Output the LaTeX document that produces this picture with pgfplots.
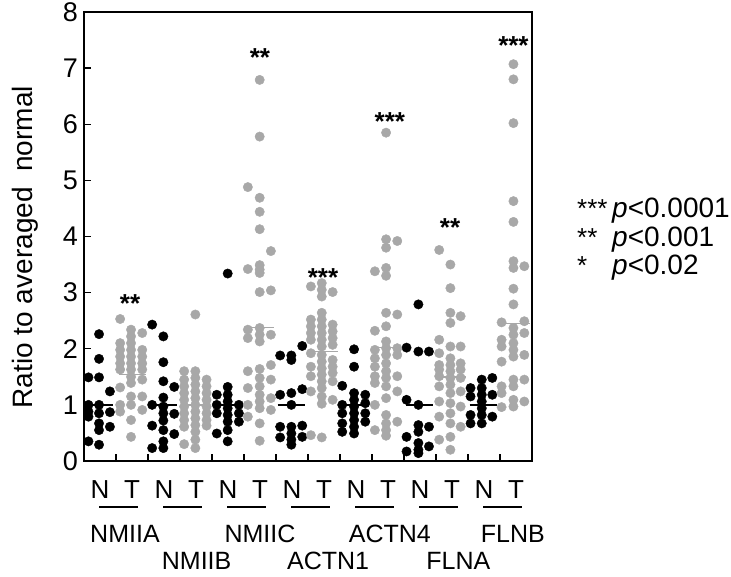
\documentclass[border=0pt]{standalone}
\usepackage{fontspec}
\setmainfont{Liberation Sans}
\usepackage{pgfplots}
\pgfplotsset{compat=1.18}
\definecolor{dotgray}{RGB}{168,168,168}
\newcommand{\bigfont}{\fontsize{26}{30}\selectfont}
\newcommand{\legfont}{\fontsize{28}{32}\selectfont}
\begin{document}
\begin{tikzpicture}
\useasboundingbox (-84pt,-116pt) rectangle (647pt,461pt);
\begin{axis}[
  at={(0,0)}, anchor=south west,
  scale only axis, width=448pt, height=449pt,
  xmin=0, xmax=14, ymin=0, ymax=8,
  clip=false,
  axis line style={line width=1.3pt},
  tick align=inside,
  xtick={1,2,...,13}, xticklabels={}, xtick pos=bottom,
  major tick length=7pt,
  tick style={line width=1.3pt, black},
  ytick={0,1,...,8}, yticklabels={0,1,2,3,4,5,6,7,8}, ytick pos=left,
  yticklabel style={anchor=east, inner sep=0pt, xshift=-6pt, font=\fontsize{27}{31}\selectfont},
]
% Normal (black)
\addplot[only marks, mark=*, mark size=4.7pt, black] table {
x y
0.14 1.49
0.14 1.00
0.14 0.88
0.14 0.79
0.14 0.35
0.47 2.26
0.47 1.82
0.47 1.49
0.47 1.00
0.47 0.85
0.47 0.67
0.47 0.55
0.47 0.29
0.81 1.24
0.81 0.87
0.81 0.61
2.13 2.43
2.13 1.00
2.13 0.63
2.13 0.23
2.48 2.22
2.48 1.76
2.48 1.42
2.48 1.13
2.48 0.97
2.48 0.85
2.48 0.72
2.48 0.55
2.48 0.35
2.48 0.23
2.82 1.32
2.82 0.84
2.82 0.48
4.15 1.18
4.15 1.00
4.15 0.85
4.15 0.49
4.49 3.34
4.49 1.32
4.49 1.18
4.49 1.06
4.49 0.94
4.49 0.82
4.49 0.70
4.49 0.55
4.49 0.35
4.84 1.00
4.84 0.85
4.84 0.70
6.13 1.88
6.13 1.18
6.13 0.61
6.13 0.42
6.48 1.88
6.48 1.80
6.48 1.21
6.48 1.00
6.48 0.61
6.48 0.49
6.48 0.38
6.48 0.29
6.82 2.05
6.82 1.28
6.82 0.63
6.82 0.43
8.07 1.34
8.07 1.00
8.07 0.85
8.07 0.67
8.07 0.52
8.44 1.99
8.44 1.68
8.44 1.21
8.44 1.09
8.44 0.97
8.44 0.85
8.44 0.73
8.44 0.61
8.44 0.49
8.79 1.18
8.79 1.03
8.79 0.85
8.79 0.70
10.08 2.02
10.08 1.09
10.08 0.43
10.08 0.17
10.45 2.79
10.45 1.95
10.45 1.00
10.45 0.64
10.45 0.52
10.45 0.32
10.45 0.20
10.45 0.14
10.78 1.95
10.78 0.61
10.78 0.26
12.08 1.30
12.08 1.15
12.08 0.82
12.08 0.67
12.43 1.45
12.43 1.30
12.43 1.18
12.43 1.06
12.43 0.94
12.43 0.82
12.43 0.67
12.76 1.48
12.76 1.18
12.76 0.79
};
% Tumour (gray)
\addplot[only marks, mark=*, mark size=4.7pt, dotgray] table {
x y
1.13 2.53
1.13 2.10
1.13 1.98
1.13 1.86
1.13 1.74
1.13 1.63
1.13 1.31
1.13 1.00
1.13 0.88
1.47 2.34
1.47 2.22
1.47 2.10
1.47 1.98
1.47 1.86
1.47 1.74
1.47 1.63
1.47 1.50
1.47 1.39
1.47 1.15
1.47 1.00
1.47 0.73
1.47 0.43
1.82 2.28
1.82 1.98
1.82 1.86
1.82 1.74
1.82 1.63
1.82 1.45
1.82 1.15
1.82 0.91
3.13 1.60
3.13 1.45
3.13 1.33
3.13 1.21
3.13 1.09
3.13 0.97
3.13 0.85
3.13 0.73
3.13 0.61
3.13 0.30
3.48 2.61
3.48 1.60
3.48 1.48
3.48 1.36
3.48 1.24
3.48 1.12
3.48 1.00
3.48 0.88
3.48 0.76
3.48 0.64
3.48 0.52
3.48 0.38
3.48 0.23
3.83 1.45
3.83 1.33
3.83 1.21
3.83 1.09
3.83 0.97
3.83 0.85
3.83 0.73
3.83 0.63
5.12 4.88
5.12 3.42
5.12 2.34
5.12 2.19
5.12 1.60
5.12 1.30
5.12 1.00
5.12 0.79
5.49 6.79
5.49 5.78
5.49 4.69
5.49 4.44
5.49 4.13
5.49 3.49
5.49 3.41
5.49 3.35
5.49 3.01
5.49 2.37
5.49 2.25
5.49 2.13
5.49 1.64
5.49 1.48
5.49 1.33
5.49 1.18
5.49 1.06
5.49 0.94
5.49 0.67
5.49 0.36
5.84 3.74
5.84 3.04
5.84 2.25
5.84 1.71
5.84 1.45
5.84 1.12
5.84 0.91
7.09 3.11
7.09 2.52
7.09 2.40
7.09 2.28
7.09 2.16
7.09 1.92
7.09 1.68
7.09 1.51
7.09 1.24
7.09 0.46
7.43 3.17
7.43 3.05
7.43 2.93
7.43 2.64
7.43 2.52
7.43 2.40
7.43 2.28
7.43 2.16
7.43 2.04
7.43 1.89
7.43 1.77
7.43 1.65
7.43 1.54
7.43 1.42
7.43 1.30
7.43 1.15
7.43 1.02
7.43 0.42
7.77 3.01
7.77 2.43
7.77 2.31
7.77 2.19
7.77 2.07
7.77 1.80
7.77 1.68
7.77 1.57
7.77 1.42
7.77 1.09
9.09 3.38
9.09 2.32
9.09 1.98
9.09 1.83
9.09 1.68
9.09 1.51
9.09 1.39
9.09 1.00
9.09 0.55
9.44 5.85
9.44 3.95
9.44 3.80
9.44 3.44
9.44 3.30
9.44 2.64
9.44 2.40
9.44 2.13
9.44 2.01
9.44 1.89
9.44 1.74
9.44 1.60
9.44 1.48
9.44 1.33
9.44 1.12
9.44 0.82
9.44 0.67
9.44 0.55
9.44 0.45
9.79 3.92
9.79 2.61
9.79 2.01
9.79 1.89
9.79 1.51
9.79 1.24
9.79 0.70
11.10 3.76
11.10 2.16
11.10 1.92
11.10 1.71
11.10 1.63
11.10 1.51
11.10 1.33
11.10 1.06
11.10 0.79
11.10 0.38
11.45 3.50
11.45 3.08
11.45 2.64
11.45 2.46
11.45 2.04
11.45 1.83
11.45 1.71
11.45 1.60
11.45 1.48
11.45 1.36
11.45 1.21
11.45 1.03
11.45 0.85
11.45 0.67
11.45 0.43
11.45 0.20
11.77 2.58
11.77 2.04
11.77 1.74
11.77 1.63
11.77 1.48
11.77 1.24
11.77 0.97
11.77 0.61
13.05 2.47
13.05 2.16
13.05 2.04
13.05 1.77
13.05 1.33
13.05 1.21
13.05 0.96
13.42 7.07
13.42 6.80
13.42 6.02
13.42 4.63
13.42 4.26
13.42 3.56
13.42 3.44
13.42 3.07
13.42 2.79
13.42 2.37
13.42 2.25
13.42 2.10
13.42 1.98
13.42 1.86
13.42 1.45
13.42 1.33
13.42 1.09
13.42 0.97
13.76 3.47
13.76 2.49
13.76 2.28
13.76 1.89
13.76 1.45
13.76 1.06
};
% medians
\addplot[black, line width=1.6pt] coordinates {(0.05,1) (0.92,1)};
\addplot[black, line width=1.6pt] coordinates {(2.05,1) (2.92,1)};
\addplot[black, line width=1.6pt] coordinates {(4.05,1) (4.92,1)};
\addplot[black, line width=1.6pt] coordinates {(6.05,1) (6.92,1)};
\addplot[black, line width=1.6pt] coordinates {(8.05,1) (8.92,1)};
\addplot[black, line width=1.6pt] coordinates {(10.05,1) (10.92,1)};
\addplot[black, line width=1.6pt] coordinates {(12.05,1) (12.92,1)};
\addplot[dotgray, line width=1.6pt] coordinates {(1.08,1.54) (1.95,1.54)};
\addplot[dotgray, line width=1.6pt] coordinates {(3.08,1.00) (3.95,1.00)};
\addplot[dotgray, line width=1.6pt] coordinates {(5.08,2.38) (5.95,2.38)};
\addplot[dotgray, line width=1.6pt] coordinates {(7.08,1.95) (7.95,1.95)};
\addplot[dotgray, line width=1.6pt] coordinates {(9.08,2.02) (9.95,2.02)};
\addplot[dotgray, line width=1.6pt] coordinates {(11.08,1.50) (11.95,1.50)};
\addplot[dotgray, line width=1.6pt] coordinates {(13.05,2.45) (13.95,2.45)};
% significance stars
\node[anchor=base, inner sep=0pt, font=\bigfont\bfseries] at (axis cs:1.44,2.64) {**};
\node[anchor=base, inner sep=0pt, font=\bigfont\bfseries] at (axis cs:5.5,7.02) {**};
\node[anchor=base, inner sep=0pt, font=\bigfont\bfseries] at (axis cs:7.47,3.11) {***};
\node[anchor=base, inner sep=0pt, font=\bigfont\bfseries] at (axis cs:9.56,5.88) {***};
\node[anchor=base, inner sep=0pt, font=\bigfont\bfseries] at (axis cs:11.44,4.0) {**};
\node[anchor=base, inner sep=0pt, font=\bigfont\bfseries] at (axis cs:13.42,7.25) {***};
% N / T labels
\foreach \k in {0,...,6}{
  \pgfmathsetmacro{\xn}{2*\k+0.5}
  \pgfmathsetmacro{\xt}{2*\k+1.5}
  \pgfmathsetmacro{\xa}{2*\k+0.47}
  \pgfmathsetmacro{\xb}{2*\k+1.69}
  \edef\temp{
    \noexpand\node[anchor=base, inner sep=0pt, font=\noexpand\bigfont] at ([yshift=-38pt]axis cs:\xn,0) {N};
    \noexpand\node[anchor=base, inner sep=0pt, font=\noexpand\bigfont] at ([yshift=-38pt]axis cs:\xt,0) {T};
    \noexpand\draw[line width=1.3pt] ([yshift=-46pt]axis cs:\xa,0) -- ([yshift=-46pt]axis cs:\xb,0);
  }
  \temp
}
% group names
\node[anchor=base, inner sep=0pt, font=\fontsize{25}{30}\selectfont] at ([yshift=-82pt]axis cs:1.28,0) {NMIIA};
\node[anchor=base, inner sep=0pt, font=\fontsize{25}{30}\selectfont] at ([yshift=-109pt]axis cs:3.52,0) {NMIIB};
\node[anchor=base, inner sep=0pt, font=\fontsize{25}{30}\selectfont] at ([yshift=-82pt]axis cs:5.5,0) {NMIIC};
\node[anchor=base, inner sep=0pt, font=\fontsize{25}{30}\selectfont] at ([yshift=-109pt]axis cs:7.63,0) {ACTN1};
\node[anchor=base, inner sep=0pt, font=\fontsize{25}{30}\selectfont] at ([yshift=-82pt]axis cs:9.56,0) {ACTN4};
\node[anchor=base, inner sep=0pt, font=\fontsize{25}{30}\selectfont] at ([yshift=-109pt]axis cs:11.7,0) {FLNA};
\node[anchor=base, inner sep=0pt, font=\fontsize{25}{30}\selectfont] at ([yshift=-82pt]axis cs:13.4,0) {FLNB};
% y label
\node[rotate=90, inner sep=0pt, font=\legfont] at ([xshift=-59pt]axis cs:0,3.81) {Ratio to averaged\ \ normal};
% legend
\node[anchor=base west, inner sep=0pt, font=\bigfont] at ([xshift=45pt, yshift=243pt]axis cs:14,0) {***};
\node[anchor=base west, inner sep=0pt, font=\bigfont] at ([xshift=45pt, yshift=214pt]axis cs:14,0) {**};
\node[anchor=base west, inner sep=0pt, font=\bigfont] at ([xshift=45pt, yshift=186pt]axis cs:14,0) {*};
\node[anchor=base west, inner sep=0pt, font=\legfont] at ([xshift=80pt, yshift=243pt]axis cs:14,0) {\textit{p}<0.0001};
\node[anchor=base west, inner sep=0pt, font=\legfont] at ([xshift=80pt, yshift=214pt]axis cs:14,0) {\textit{p}<0.001};
\node[anchor=base west, inner sep=0pt, font=\legfont] at ([xshift=80pt, yshift=186pt]axis cs:14,0) {\textit{p}<0.02};
\end{axis}
\end{tikzpicture}
\end{document}
